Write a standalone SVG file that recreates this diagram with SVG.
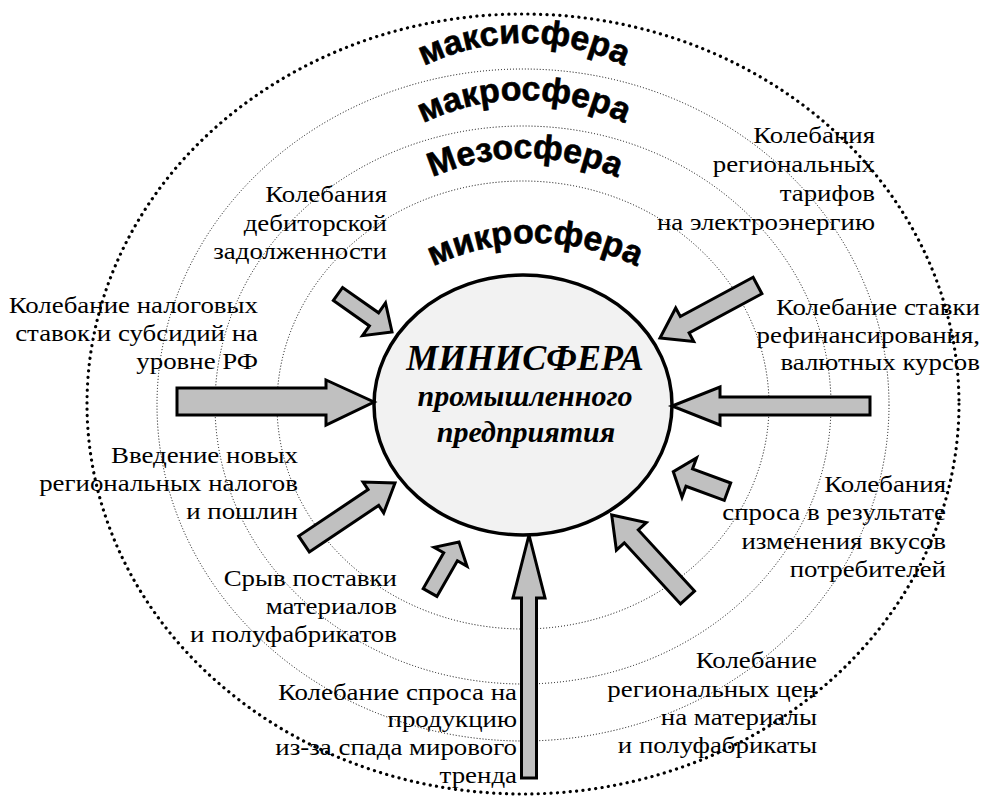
<svg xmlns="http://www.w3.org/2000/svg" width="985" height="797" viewBox="0 0 985 797">
<style>
.ring{fill:none;stroke:#000;stroke-width:1;stroke-dasharray:1 2}
.outer{fill:none;stroke:#000;stroke-width:3.2;stroke-dasharray:0.1 6.3;stroke-linecap:round}
.arr{fill:#c0c0c0;stroke:#000;stroke-width:3;stroke-linejoin:miter}
.lbl{font-family:"Liberation Serif","Times New Roman",serif;font-size:24px;fill:#000;text-anchor:end}
.sph{font-family:"Liberation Sans",Arial,sans-serif;font-weight:bold;font-size:34px;fill:#000;stroke:#000;stroke-width:0.6}
.core{font-family:"Liberation Serif","Times New Roman",serif;font-style:italic;font-weight:bold;fill:#000;text-anchor:middle}
</style>
<defs>
<path id="pMaxi" d="M 294 273 A 230 230 0 0 1 754 273"/>
<path id="pMakro" d="M 294 330 A 230 230 0 0 1 754 330"/>
<path id="pMezo" d="M 295 388 A 230 230 0 0 1 755 388"/>
<path id="pMikro" d="M 303 475 A 232 232 0 0 1 767 475"/>
</defs>
<rect width="985" height="797" fill="#fff"/>
<g id="rings">
<ellipse class="outer" cx="523" cy="404" rx="436" ry="390"/>
<ellipse class="ring" cx="523" cy="405" rx="366" ry="336"/>
<ellipse class="ring" cx="523" cy="405" rx="308" ry="279"/>
<ellipse class="ring" cx="523" cy="405" rx="246" ry="224"/>
</g>
<g id="sphere-labels">
<text class="sph"><textPath href="#pMaxi" startOffset="50%" text-anchor="middle">максисфера</textPath></text>
<text class="sph"><textPath href="#pMakro" startOffset="50%" text-anchor="middle">макросфера</textPath></text>
<text class="sph"><textPath href="#pMezo" startOffset="50%" text-anchor="middle">Мезосфера</textPath></text>
<text class="sph"><textPath href="#pMikro" startOffset="50%" text-anchor="middle">микросфера</textPath></text>
</g>
<g id="ministerra">
<ellipse cx="523" cy="405" rx="149" ry="130" fill="#f2f2f2" stroke="#000" stroke-width="3.5"/>
<text class="core" x="525" y="370" font-size="36">МИНИСФЕРА</text>
<text class="core" x="525" y="406" font-size="30">промышленного</text>
<text class="core" x="526" y="442" font-size="30">предприятия</text>
</g>
<g id="connectors">
<polygon class="arr" points="333.4,300.5 369.4,325.9 362.5,335.7 392,332 385.5,303 378.6,312.8 342.6,287.5"/>
<polygon class="arr" points="753.1,277.3 680.3,316.5 675.7,308 660,338 693.7,341.5 689.1,332.9 761.9,293.7"/>
<polygon class="arr" points="177,388 326,388 326,380 374,402 326,425 326,415 177,415"/>
<polygon class="arr" points="870,397 720,397 720,387 672,406 720,425 720,415 870,415"/>
<polygon class="arr" points="309.3,551.9 378.7,505.4 383.7,512.9 395,483 363.1,482.1 368.1,489.6 298.7,536.1"/>
<polygon class="arr" points="436.9,596.4 457.4,560.7 467,566.2 459,542 434.1,547.3 443.7,552.8 423.2,588.6"/>
<polygon class="arr" points="730.7,483 692.5,468.9 696.5,457.9 673.3,471.7 682,497.3 686,486.3 724.3,500.4"/>
<polygon class="arr" points="694.5,591.1 638.3,529.9 646.3,522.6 611.7,515 616.4,550.1 624.3,542.8 680.5,603.9"/>
<polygon class="arr" points="521.5,778 521.5,598 513,598 529,535 545,598 536.5,598 536.5,778"/>
</g>
<g id="factor-debt" transform="translate(387,0) scale(1.12,1) translate(-387,0)">
<text class="lbl" x="387" y="202">Колебания</text>
<text class="lbl" x="387" y="231">дебиторской</text>
<text class="lbl" x="387" y="259">задолженности</text>
</g>
<g id="factor-tariffs" transform="translate(875,0) scale(1.12,1) translate(-875,0)">
<text class="lbl" x="875" y="143">Колебания</text>
<text class="lbl" x="875" y="172">региональных</text>
<text class="lbl" x="875" y="201">тарифов</text>
<text class="lbl" x="875" y="230">на электроэнергию</text>
</g>
<g id="factor-taxes" transform="translate(258,0) scale(1.12,1) translate(-258,0)">
<text class="lbl" x="258" y="313">Колебание налоговых</text>
<text class="lbl" x="258" y="341">ставок и субсидий на</text>
<text class="lbl" x="258" y="369">уровне РФ</text>
</g>
<g id="factor-rate" transform="translate(980,0) scale(1.12,1) translate(-980,0)">
<text class="lbl" x="980" y="315">Колебание ставки</text>
<text class="lbl" x="980" y="343">рефинансирования,</text>
<text class="lbl" x="980" y="370">валютных курсов</text>
</g>
<g id="factor-regtax" transform="translate(298,0) scale(1.12,1) translate(-298,0)">
<text class="lbl" x="298" y="463">Введение новых</text>
<text class="lbl" x="298" y="491">региональных налогов</text>
<text class="lbl" x="298" y="519">и пошлин</text>
</g>
<g id="factor-supply" transform="translate(397,0) scale(1.12,1) translate(-397,0)">
<text class="lbl" x="397" y="586">Срыв поставки</text>
<text class="lbl" x="397" y="614">материалов</text>
<text class="lbl" x="397" y="642">и полуфабрикатов</text>
</g>
<g id="factor-world" transform="translate(517,0) scale(1.12,1) translate(-517,0)">
<text class="lbl" x="517" y="700">Колебание спроса на</text>
<text class="lbl" x="517" y="727">продукцию</text>
<text class="lbl" x="517" y="755">из-за спада мирового</text>
<text class="lbl" x="517" y="783">тренда</text>
</g>
<g id="factor-taste" transform="translate(946,0) scale(1.12,1) translate(-946,0)">
<text class="lbl" x="946" y="492">Колебания</text>
<text class="lbl" x="946" y="520">спроса в результате</text>
<text class="lbl" x="946" y="549">изменения вкусов</text>
<text class="lbl" x="946" y="577">потребителей</text>
</g>
<g id="factor-prices" transform="translate(817,0) scale(1.12,1) translate(-817,0)">
<text class="lbl" x="817" y="668">Колебание</text>
<text class="lbl" x="817" y="697">региональных цен</text>
<text class="lbl" x="817" y="725">на материалы</text>
<text class="lbl" x="817" y="753">и полуфабрикаты</text>
</g>
</svg>
